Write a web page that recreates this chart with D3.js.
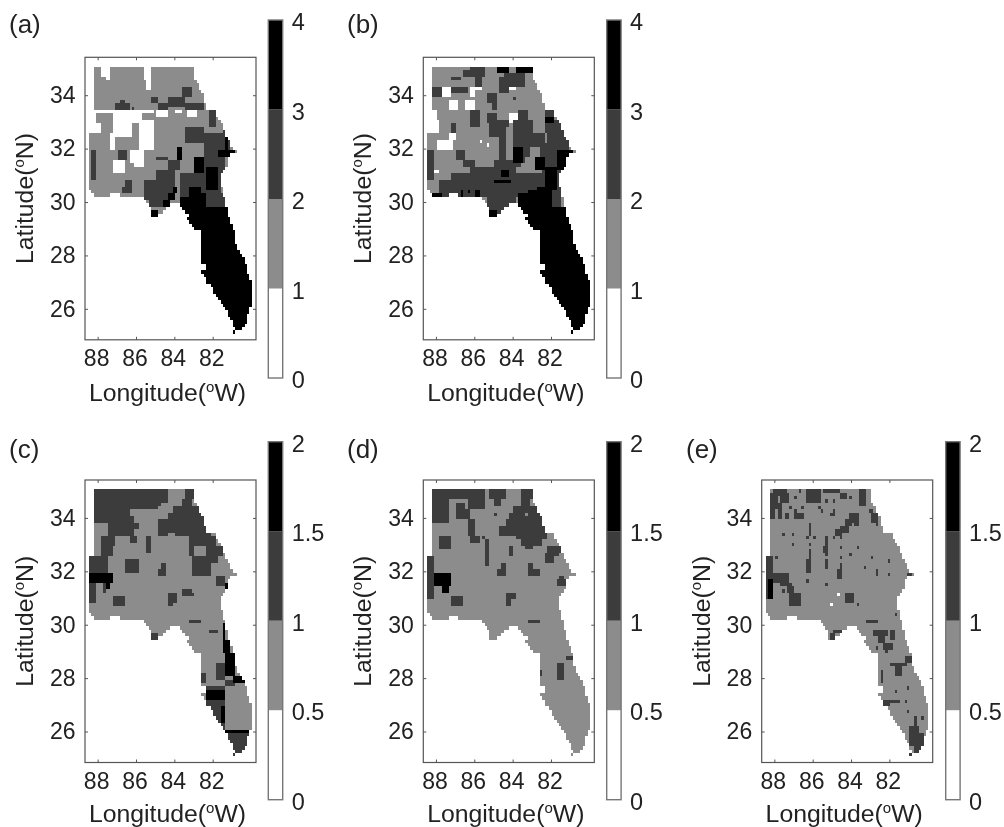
<!DOCTYPE html>
<html>
<head>
<meta charset="utf-8">
<script src="https://cdn.jsdelivr.net/npm/d3@7"></script>
<style>
  html, body { margin: 0; padding: 0; background: #fff; }
  text { font-family: "Liberation Sans", Arial, sans-serif; fill: #222; }
  /* the source is a soft raster scan */
  svg { filter: blur(0.45px); }
</style>
</head>
<body>
<div id="chart"></div>
<script>
// grid is 1/8 degree, row 0 is the northern edge and col 0 the western edge
var gridStep = 0.125;
var gridWest = 88.46;
var gridNorth = 35.07;

// first and last land column of each grid row
var landStart = [2,2,2,2,2,2,2,2,2,2,2,2,2,2,2,2,2,2,2,2,
  0,0,0,0,0,0,0,0,0,0,0,0,0,0,0,0,0,1,2,23,24,25,26,26,26,41,42,43,44,
  47,47,47,47,47,47,47,47,47,47,49,49,47,48,49,49,51,52,52,53,54,55,56,57,58,58,59,60,60,61,60];
var landEnd = [43,43,43,43,44,45,45,46,47,47,47,48,48,52,52,53,54,55,55,56,
  56,57,58,58,59,61,58,57,57,57,56,55,54,54,54,54,55,55,55,56,56,56,57,57,57,58,58,59,59,
  60,60,60,60,61,61,62,63,64,64,65,65,65,66,66,67,67,67,67,67,67,67,67,66,66,65,65,65,64,63,60];
// sea inside the land span: [row0, row1, col0, col1]
var seaGaps = [[38,38,9,12],[41,41,34,37],[42,42,32,38],[43,43,31,39],[44,44,29,41]];

// each field: [class, col0, col1, row0, row1], painted in order over class 1
var fieldA = [[0,5,8,0,2],[0,7,8,3,3],[0,23,25,0,3],[0,24,25,4,6],[0,2,26,13,13],[0,10,17,14,20],[0,18,21,14,16],
  [0,21,26,16,24],[0,9,10,20,24],[0,17,22,25,28],[0,19,22,29,29],[0,10,14,28,31],[0,28,32,13,14],
  [0,36,38,13,13],[0,41,44,13,14],[0,2,2,14,19],[0,2,4,17,19],
  [2,1,2,25,33],[2,12,15,25,27],[2,15,17,34,35],[2,14,17,36,37],[2,13,14,10,10],[2,11,16,11,12],[2,18,18,12,12],
  [2,26,28,9,10],[2,39,42,6,8],[2,33,39,9,11],[2,29,32,11,12],[2,40,47,11,12],[2,50,52,13,17],[2,40,47,18,22],
  [2,48,58,20,26],[2,56,56,17,21],[2,28,32,27,27],[2,33,37,28,30],[2,28,35,31,33],[2,23,35,34,39],[2,25,31,40,41],
  [2,38,48,32,38],[2,48,56,27,38],[2,49,56,38,41],
  [1,38,44,28,31],[1,41,46,23,26],[1,36,36,34,39],[1,28,32,42,42],[1,55,55,35,37],
  [3,37,38,24,27],[3,44,47,27,31],[3,49,53,30,36],[3,35,36,36,37],[3,33,35,38,39],[3,31,33,40,41],[3,26,28,43,44],
  [3,57,57,21,24],[3,54,60,25,26],[3,42,46,36,38],[3,38,48,39,41],[3,47,48,38,38],[3,39,67,42,79]];

var fieldB = [[0,6,9,6,8],[0,18,22,6,6],[0,18,19,7,8],[0,9,12,10,12],[0,16,19,10,12],[0,9,11,20,21],[0,4,10,22,24],
  [0,22,22,22,22],[0,25,25,23,23],[0,34,37,14,16],[0,33,33,17,17],[0,33,36,6,6],[0,3,4,31,31],[0,2,3,13,19],[0,4,4,16,19],
  [2,18,23,0,0],[2,15,23,1,2],[2,20,22,3,5],[2,10,13,3,3],[2,32,40,2,5],[2,30,33,3,7],[2,2,5,6,8],[2,10,16,6,7],
  [2,25,28,8,10],[2,27,28,11,12],[2,36,36,9,9],[2,18,21,13,17],[2,25,28,14,16],[2,26,33,16,20],[2,30,32,21,27],
  [2,38,41,13,15],[2,36,48,16,22],[2,49,52,13,15],[2,49,58,16,29],[2,36,48,23,29],[2,10,11,17,19],[1,44,48,14,19],[1,49,49,20,22],
  [1,33,35,18,27],
  [2,0,2,25,33],[2,12,15,25,27],[2,15,19,28,29],[2,18,36,30,32],[2,28,36,28,29],[2,10,47,32,33],
  [2,5,47,34,37],[2,3,47,38,38],[2,25,35,39,44],[2,36,36,39,41],[2,48,58,30,36],
  [1,43,46,24,26],[1,41,45,27,28],[1,39,45,29,29],[1,39,43,30,31],
  [3,29,33,0,1],[3,37,43,0,1],[3,49,52,15,16],[3,54,60,25,27],[3,54,58,28,30],[3,36,39,24,28],[3,45,48,27,30],
  [3,2,5,38,38],[3,14,14,37,38],[3,17,17,37,37],[3,20,21,37,38],[3,28,34,34,34],[3,31,33,31,32],[3,26,28,43,44],
  [3,49,53,30,37],[3,46,49,36,37],[3,42,45,37,38],[3,38,51,38,41],[2,52,55,37,41],[3,39,67,42,79]];

var fieldC = [[2,2,32,0,3],[2,2,29,4,4],[2,2,28,5,5],[2,2,16,6,7],[2,2,18,8,9],[1,2,7,10,13],[1,11,12,10,10],
  [2,8,20,10,11],[2,8,18,12,13],[2,17,19,14,15],[2,5,10,14,16],[2,5,9,17,19],[2,0,7,20,24],[2,0,2,28,33],
  [2,10,14,32,34],[2,15,20,21,24],[2,24,25,14,18],[2,30,31,22,23],[2,29,31,24,25],[2,33,36,31,33],[2,33,34,34,34],
  [2,39,42,30,30],[2,39,43,31,31],[2,42,46,39,39],[2,50,53,42,42],[2,26,28,43,44],[2,53,56,26,28],
  [2,40,43,0,2],[2,39,42,3,4],[2,35,45,5,6],[2,33,47,7,8],[2,29,48,9,10],[2,29,49,11,12],[2,29,32,13,13],[2,36,50,13,13],
  [2,42,52,14,16],[2,42,43,17,19],[2,49,55,17,19],[2,43,53,20,21],[2,43,50,22,25],
  [3,0,9,25,27],[3,7,8,28,29],[2,6,6,28,30],[3,57,57,28,30],
  [2,53,56,52,56],[2,47,48,55,57],[2,57,60,57,58],[3,56,56,40,44],[3,56,58,45,48],[3,57,60,49,55],[3,60,64,56,57],
  [2,49,56,59,72],[3,49,56,60,62],[3,55,56,65,69],[3,55,66,72,72],[2,56,67,73,78],[2,60,60,79,79]];

var fieldD = [[2,2,23,0,2],[2,17,23,3,5],[2,2,8,3,9],[2,12,15,4,5],[2,12,17,6,8],[2,17,19,9,13],[2,18,21,14,15],
  [2,26,32,0,2],[2,28,30,3,4],[2,28,28,7,7],[2,39,43,0,2],[2,39,42,3,4],[2,36,45,5,6],[2,34,47,7,8],[2,33,48,9,10],
  [2,30,49,11,13],[2,37,49,14,14],[2,39,47,15,16],[2,41,43,17,17],[1,41,41,7,7],[2,34,35,17,19],[2,5,9,14,17],
  [2,23,23,14,14],[2,24,25,15,22],[2,50,55,17,18],[2,49,54,19,19],[2,49,52,20,21],[2,0,2,20,32],
  [3,3,9,25,28],[3,6,8,29,30],[2,10,14,32,34],[2,31,32,22,23],[2,29,32,24,25],[2,33,36,31,32],[2,33,34,33,34],
  [2,42,43,22,23],[2,42,46,24,25],[2,42,46,39,39],[2,55,56,26,26],[2,54,57,27,28],[2,58,60,50,50],[2,54,56,52,56],
  [2,47,47,54,55]];

var fieldE = [[2,3,8,0,1],[2,2,4,1,5],[2,6,9,1,3],[2,4,6,4,5],[2,2,3,5,8],[2,5,6,6,8],[2,8,9,7,8],
  [2,12,12,2,2],[2,14,14,0,0],[2,17,22,0,3],[2,10,10,5,5],[2,15,15,5,5],[2,12,12,6,6],[2,12,15,7,8],
  [2,25,25,3,3],[2,28,28,3,3],[2,22,22,5,5],[2,23,23,6,6],[2,28,28,6,7],[2,27,27,7,7],[2,24,30,0,0],[2,31,33,1,2],
  [2,35,35,2,2],[2,39,41,0,4],[2,43,44,6,6],[2,44,46,7,9],[2,46,46,10,10],[2,35,38,7,8],[2,33,38,9,10],[1,36,36,10,10],
  [2,31,34,11,12],[2,29,31,12,13],[2,31,31,14,14],[2,28,28,14,14],[2,7,7,13,13],[2,11,11,13,13],[2,11,11,16,16],
  [2,18,18,10,13],[2,17,17,14,14],[2,20,20,14,14],[2,18,18,16,16],[2,25,25,14,19],[2,24,24,17,18],[2,31,31,17,17],
  [2,31,31,20,20],[2,35,35,19,19],[2,38,38,17,17],[2,18,18,18,20],[2,17,18,21,24],[2,25,25,21,23],[2,31,31,22,26],
  [2,30,30,24,26],[2,44,44,20,20],[2,41,41,23,23],[2,46,46,24,25],[2,51,51,21,21],[2,51,51,25,25],[2,59,60,25,25],
  [2,17,17,27,27],[2,25,25,28,28],[2,0,2,20,32],[3,1,2,27,32],[2,4,4,20,20],[2,3,9,25,27],[2,6,10,28,28],[2,9,11,29,30],
  [2,10,14,31,34],[2,7,7,30,30],[0,30,30,31,31],[0,27,27,34,34],[2,33,36,31,33],[2,38,38,34,34],[2,54,54,37,37],
  [2,42,46,39,39],[2,28,31,42,42],[2,27,28,43,44],[2,45,50,42,43],[2,52,53,42,44],[2,47,49,44,45],[2,46,46,47,47],
  [2,49,52,46,47],[2,50,50,48,48],[2,58,60,50,51],[2,52,58,52,52],[2,54,56,53,55],[2,48,48,54,57],[2,54,54,60,60],
  [2,59,59,59,59],[2,58,58,63,63],[2,59,59,66,66],[2,49,55,63,63],[2,49,51,64,64],[2,65,65,68,68],[2,62,62,68,70],
  [2,60,63,71,72],[2,60,65,73,76],[2,62,64,77,78],[2,60,60,79,79]];

// class 0..3 of the colour bars
var classColors = ["#ffffff", "#8c8c8c", "#3c3c3c", "#000000"];
var barTicksHigh = ["0", "1", "2", "3", "4"];
var barTicksLow = ["0", "0.5", "1", "1.5", "2"];
var lonTicks = [88, 86, 84, 82];
var latTicks = [34, 32, 30, 28, 26];

var panels = [
  { label: "(a)", field: fieldA, ticks: barTicksHigh, left: 85, top: 57.3, barLeft: 268.3, barTop: 20, labelX: 9, labelY: 33, titleDy: 61 },
  { label: "(b)", field: fieldB, ticks: barTicksHigh, left: 423.3, top: 57.3, barLeft: 606.7, barTop: 20, labelX: 347, labelY: 33, titleDy: 61 },
  { label: "(c)", field: fieldC, ticks: barTicksLow, left: 85, top: 480, barLeft: 268.3, barTop: 441.7, labelX: 9, labelY: 458, titleDy: 59.5 },
  { label: "(d)", field: fieldD, ticks: barTicksLow, left: 423.3, top: 480, barLeft: 606.7, barTop: 441.7, labelX: 347, labelY: 458, titleDy: 59.5 },
  { label: "(e)", field: fieldE, ticks: barTicksLow, left: 761.7, top: 480, barLeft: 945.7, barTop: 441.7, labelX: 686, labelY: 458, titleDy: 59.5 }
];

var axWidth = 171;
var axHeight = 282.5;
var barWidth = 14.4;
var barHeight = 358;

var xScale = d3.scaleLinear().domain([88.66, 79.74]).range([0, axWidth]);
var yScale = d3.scaleLinear().domain([35.42, 24.84]).range([0, axHeight]);

var svg = d3.select("#chart")
  .append("svg")
  .attr("width", 1004)
  .attr("height", 827);

// fill a row/col grid from the land mask and the painted patches
function buildGrid(field) {
  var grid = landStart.map(function(start, r) {
    return d3.range(68).map(function(c) {
      return c >= start && c <= landEnd[r] ? 1 : -1;
    });
  });
  seaGaps.forEach(function(g) {
    for (var r = g[0]; r <= g[1]; r++) {
      for (var c = g[2]; c <= g[3]; c++) grid[r][c] = -1;
    }
  });
  field.forEach(function(p) {
    for (var r = p[3]; r <= p[4]; r++) {
      for (var c = p[1]; c <= p[2]; c++) {
        if (grid[r][c] >= 0) grid[r][c] = p[0];
      }
    }
  });
  return grid;
}

// merge each row into runs of the same class
function gridRuns(grid) {
  var runs = [];
  grid.forEach(function(row, r) {
    var c = 0;
    while (c < row.length) {
      var end = c;
      while (end + 1 < row.length && row[end + 1] === row[c]) end++;
      if (row[c] > 0) runs.push({ row: r, col0: c, col1: end, value: row[c] });
      c = end + 1;
    }
  });
  return runs;
}

function lonAt(col) { return gridWest - col * gridStep; }
function latAt(row) { return gridNorth - row * gridStep; }

panels.forEach(function(p) {
  var chartGroup = svg.append("g")
    .attr("transform", `translate(${p.left}, ${p.top})`);

  // grid cells
  chartGroup.selectAll("rect.cell")
    .data(gridRuns(buildGrid(p.field)))
    .enter()
    .append("rect")
    .attr("class", "cell")
    .attr("shape-rendering", "crispEdges")
    .attr("x", d => xScale(lonAt(d.col0)))
    .attr("y", d => yScale(latAt(d.row)))
    .attr("width", d => xScale(lonAt(d.col1 + 1)) - xScale(lonAt(d.col0)))
    .attr("height", d => yScale(latAt(d.row + 1)) - yScale(latAt(d.row)))
    .attr("fill", d => classColors[d.value]);

  // box
  chartGroup.append("rect")
    .attr("width", axWidth)
    .attr("height", axHeight)
    .attr("fill", "none")
    .attr("stroke", "#555")
    .attr("stroke-width", 1.2);

  // axes, ticks point inwards on all four sides
  var bottomAxis = d3.axisBottom(xScale).tickValues(lonTicks).tickSizeInner(-3).tickSizeOuter(0).tickPadding(10);
  var leftAxis = d3.axisLeft(yScale).tickValues(latTicks).tickSizeInner(-3).tickSizeOuter(0).tickPadding(8);
  var topAxis = d3.axisTop(xScale).tickValues(lonTicks).tickSizeInner(-3).tickSizeOuter(0).tickFormat("");
  var rightAxis = d3.axisRight(yScale).tickValues(latTicks).tickSizeInner(-3).tickSizeOuter(0).tickFormat("");

  [chartGroup.append("g").attr("transform", `translate(0, ${axHeight})`).call(bottomAxis),
    chartGroup.append("g").call(leftAxis),
    chartGroup.append("g").call(topAxis),
    chartGroup.append("g").attr("transform", `translate(${axWidth}, 0)`).call(rightAxis)
  ].forEach(function(axis) {
    axis.select(".domain").remove();
    axis.selectAll("line").attr("stroke", "#555");
    axis.selectAll("text").attr("font-size", 23).style("fill", "#222");
  });
  chartGroup.selectAll("g.tick text").filter(function() { return d3.select(this).attr("text-anchor") !== "end"; }).attr("dx", -1.5);

  // axis titles
  var xTitle = chartGroup.append("text")
    .attr("x", axWidth / 2 - 3)
    .attr("y", axHeight + p.titleDy)
    .attr("text-anchor", "middle")
    .attr("font-size", 24.8);
  xTitle.append("tspan").text("Longitude(");
  xTitle.append("tspan").attr("dy", -9).attr("font-size", 15).text("o");
  xTitle.append("tspan").attr("dy", 9).text("W)");

  var yTitle = chartGroup.append("text")
    .attr("transform", `translate(-52, ${axHeight / 2}) rotate(-90)`)
    .attr("text-anchor", "middle")
    .attr("font-size", 24.8);
  yTitle.append("tspan").text("Latitude(");
  yTitle.append("tspan").attr("dy", -9).attr("font-size", 15).text("o");
  yTitle.append("tspan").attr("dy", 9).text("N)");

  // panel letter
  svg.append("text")
    .attr("x", p.labelX)
    .attr("y", p.labelY)
    .attr("font-size", 26)
    .text(p.label);

  // colour bar
  var barScale = d3.scaleLinear().domain([0, p.ticks.length - 1]).range([barHeight, 0]);
  var barGroup = svg.append("g")
    .attr("transform", `translate(${p.barLeft}, ${p.barTop})`);

  barGroup.selectAll("rect")
    .data(classColors)
    .enter()
    .append("rect")
    .attr("y", (d, i) => barScale(i + 1))
    .attr("width", barWidth)
    .attr("height", (d, i) => barScale(i) - barScale(i + 1))
    .attr("fill", d => d);

  barGroup.append("rect")
    .attr("width", barWidth)
    .attr("height", barHeight)
    .attr("fill", "none")
    .attr("stroke", "#777")
    .attr("stroke-width", 1.4);

  barGroup.selectAll("text")
    .data(p.ticks)
    .enter()
    .append("text")
    .attr("x", barWidth + 9)
    .attr("y", (d, i) => barScale(i) + 10)
    .attr("font-size", 23.5)
    .text(d => d);
});
</script>
</body>
</html>
